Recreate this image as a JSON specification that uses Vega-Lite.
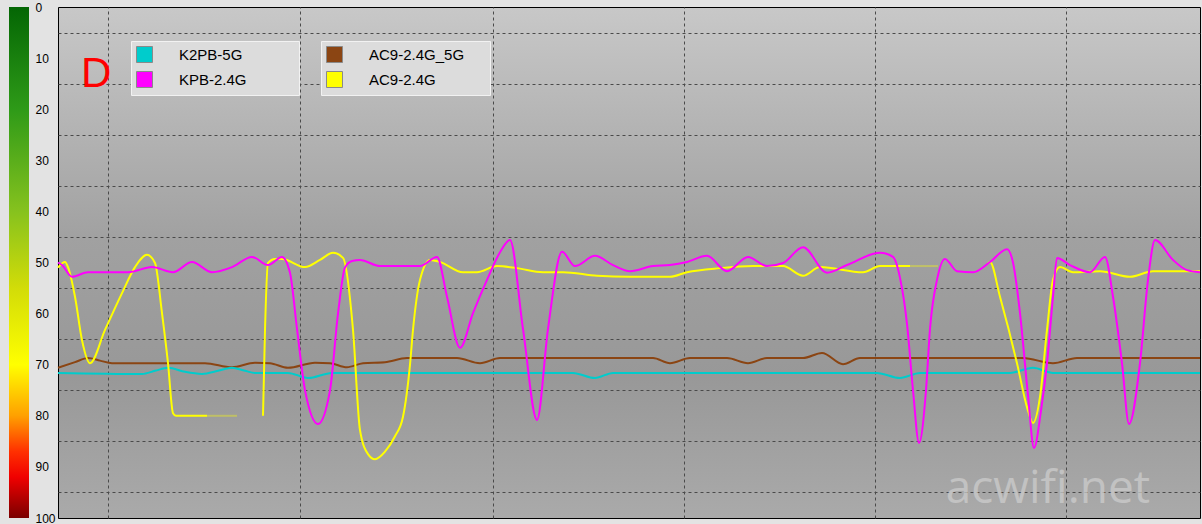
{
  "$schema": "https://vega.github.io/schema/vega-lite/v6.json",
  "background": "#e3e3e3",
  "padding": {"left": 9, "top": 1, "right": 0, "bottom": 0},
  "autosize": {"type": "pad"},
  "bounds": "flush",
  "spacing": 29,
  "datasets": {
    "kpb": [
      {"t":0,"v":50.0},{"t":4,"v":50.5},{"t":14,"v":52.8},{"t":30,"v":51.9},{"t":70,"v":51.9},{"t":94,"v":50.9},{"t":115,"v":51.9},{"t":134,"v":49.9},{"t":154,"v":51.9},{"t":174,"v":50.9},{"t":194,"v":48.9},{"t":210,"v":50.5},{"t":224,"v":48.9},{"t":232,"v":52},{"t":239,"v":63},{"t":247,"v":75},{"t":260,"v":81.6},{"t":272,"v":75},{"t":280,"v":60},{"t":287,"v":51},{"t":294,"v":49.7},{"t":302,"v":49.5},{"t":322,"v":50.7},{"t":362,"v":50.7},{"t":379,"v":48.9},{"t":389,"v":56.7},{"t":402,"v":66.7},{"t":415,"v":59.9},{"t":429,"v":53.4},{"t":442,"v":48},{"t":452,"v":45.6},{"t":465,"v":63},{"t":479,"v":80.8},{"t":490,"v":63},{"t":504,"v":47.9},{"t":517,"v":50.7},{"t":537,"v":48.7},{"t":555,"v":50.5},{"t":572,"v":51.7},{"t":595,"v":50.7},{"t":612,"v":50.5},{"t":629,"v":49.9},{"t":649,"v":48.7},{"t":669,"v":51.7},{"t":690,"v":48.9},{"t":709,"v":50.7},{"t":725,"v":50.1},{"t":745,"v":47},{"t":769,"v":52},{"t":789,"v":50.5},{"t":822,"v":48.1},{"t":835,"v":48.9},{"t":842,"v":53},{"t":849,"v":62},{"t":855,"v":75},{"t":861,"v":85.3},{"t":868,"v":75},{"t":872,"v":63},{"t":879,"v":53.4},{"t":887,"v":49.3},{"t":899,"v":51.7},{"t":915,"v":51.9},{"t":932,"v":49.9},{"t":949,"v":47.4},{"t":955,"v":50},{"t":962,"v":59.9},{"t":970,"v":76},{"t":976,"v":86.3},{"t":983,"v":79},{"t":989,"v":69.7},{"t":995,"v":56.7},{"t":999,"v":49.1},{"t":1012,"v":50.5},{"t":1032,"v":51.9},{"t":1047,"v":48.9},{"t":1055,"v":56.7},{"t":1064,"v":69.7},{"t":1071,"v":81.6},{"t":1082,"v":69.7},{"t":1090,"v":53.4},{"t":1097,"v":45.6},{"t":1115,"v":49.5},{"t":1129,"v":51.5},{"t":1142,"v":51.9}
    ],
    "ac9": [
      {"t":0,"v":51,"seg":"a","link":"live"},{"t":7,"v":49.9,"seg":"a","link":"live"},{"t":10,"v":50.9,"seg":"a","link":"live"},{"t":17,"v":56.7,"seg":"a","link":"live"},{"t":24,"v":65.2,"seg":"a","link":"live"},{"t":32,"v":69.7,"seg":"a","link":"live"},{"t":47,"v":63.2,"seg":"a","link":"live"},{"t":64,"v":56,"seg":"a","link":"live"},{"t":77,"v":50.9,"seg":"a","link":"live"},{"t":89,"v":48.5,"seg":"a","link":"live"},{"t":97,"v":50.1,"seg":"a","link":"live"},{"t":104,"v":59.9,"seg":"a","link":"live"},{"t":110,"v":69.7,"seg":"a","link":"live"},{"t":115,"v":79.5,"seg":"a","link":"live"},{"t":118,"v":80,"seg":"a","link":"live"},{"t":149,"v":80,"seg":"a","link":"live"},
      {"t":149,"v":80,"seg":"a2","link":"lost"},{"t":179,"v":80,"seg":"a2","link":"lost"},
      {"t":205,"v":80,"seg":"b","link":"live"},{"t":207,"v":63.2,"seg":"b","link":"live"},{"t":210,"v":50.1,"seg":"b","link":"live"},{"t":217,"v":49.3,"seg":"b","link":"live"},{"t":224,"v":49.3,"seg":"b","link":"live"},{"t":247,"v":50.9,"seg":"b","link":"live"},{"t":262,"v":49.5,"seg":"b","link":"live"},{"t":275,"v":48.1,"seg":"b","link":"live"},{"t":285,"v":49.1,"seg":"b","link":"live"},{"t":295,"v":63.2,"seg":"b","link":"live"},{"t":302,"v":82.8,"seg":"b","link":"live"},{"t":310,"v":87.5,"seg":"b","link":"live"},{"t":317,"v":88.5,"seg":"b","link":"live"},{"t":327,"v":87,"seg":"b","link":"live"},{"t":337,"v":84,"seg":"b","link":"live"},{"t":345,"v":80.2,"seg":"b","link":"live"},{"t":352,"v":70,"seg":"b","link":"live"},{"t":355,"v":63.2,"seg":"b","link":"live"},{"t":362,"v":53.4,"seg":"b","link":"live"},{"t":372,"v":49.5,"seg":"b","link":"live"},{"t":382,"v":49.9,"seg":"b","link":"live"},{"t":405,"v":51.9,"seg":"b","link":"live"},{"t":419,"v":51.9,"seg":"b","link":"live"},{"t":439,"v":50.7,"seg":"b","link":"live"},{"t":459,"v":51.1,"seg":"b","link":"live"},{"t":485,"v":51.9,"seg":"b","link":"live"},{"t":505,"v":51.9,"seg":"b","link":"live"},{"t":539,"v":52.6,"seg":"b","link":"live"},{"t":572,"v":52.8,"seg":"b","link":"live"},{"t":612,"v":52.8,"seg":"b","link":"live"},{"t":629,"v":51.9,"seg":"b","link":"live"},{"t":662,"v":51.1,"seg":"b","link":"live"},{"t":695,"v":50.7,"seg":"b","link":"live"},{"t":725,"v":50.7,"seg":"b","link":"live"},{"t":745,"v":52.6,"seg":"b","link":"live"},{"t":762,"v":50.9,"seg":"b","link":"live"},{"t":805,"v":51.9,"seg":"b","link":"live"},{"t":822,"v":50.7,"seg":"b","link":"live"},{"t":852,"v":50.7,"seg":"b","link":"live"},
      {"t":852,"v":50.7,"seg":"b2","link":"lost"},{"t":880,"v":50.7,"seg":"b2","link":"lost"},
      {"t":930,"v":50.2,"seg":"c","link":"live"},{"t":932,"v":49.9,"seg":"c","link":"live"},{"t":942,"v":56.7,"seg":"c","link":"live"},{"t":959,"v":69.7,"seg":"c","link":"live"},{"t":969,"v":78.3,"seg":"c","link":"live"},{"t":975,"v":81.4,"seg":"c","link":"live"},{"t":982,"v":76.3,"seg":"c","link":"live"},{"t":989,"v":63.2,"seg":"c","link":"live"},{"t":995,"v":53.4,"seg":"c","link":"live"},{"t":1002,"v":50.9,"seg":"c","link":"live"},{"t":1015,"v":51.9,"seg":"c","link":"live"},{"t":1042,"v":51.7,"seg":"c","link":"live"},{"t":1072,"v":52.8,"seg":"c","link":"live"},{"t":1095,"v":51.7,"seg":"c","link":"live"},{"t":1142,"v":51.7,"seg":"c","link":"live"}
    ],
    "ac9_5g": [
      {"t":0,"v":70.6},{"t":17,"v":69.5},{"t":30,"v":68.7},{"t":42,"v":69.2},{"t":54,"v":69.7},{"t":147,"v":69.7},{"t":174,"v":70.5},{"t":197,"v":69.6},{"t":212,"v":69.7},{"t":230,"v":70.6},{"t":257,"v":69.6},{"t":272,"v":69.7},{"t":289,"v":70.5},{"t":305,"v":69.7},{"t":327,"v":69.5},{"t":349,"v":68.7},{"t":399,"v":68.7},{"t":422,"v":69.7},{"t":442,"v":68.7},{"t":595,"v":68.7},{"t":612,"v":69.7},{"t":632,"v":68.7},{"t":669,"v":68.7},{"t":690,"v":69.7},{"t":709,"v":68.7},{"t":745,"v":68.7},{"t":764,"v":67.7},{"t":785,"v":69.9},{"t":802,"v":68.7},{"t":965,"v":68.7},{"t":995,"v":69.7},{"t":1019,"v":68.7},{"t":1142,"v":68.7}
    ],
    "k2pb": [
      {"t":0,"v":71.6},{"t":84,"v":71.8},{"t":97,"v":71.2},{"t":110,"v":70.6},{"t":127,"v":71.4},{"t":144,"v":71.8},{"t":160,"v":71.2},{"t":174,"v":70.6},{"t":187,"v":71.2},{"t":197,"v":71.6},{"t":230,"v":71.6},{"t":250,"v":72.6},{"t":274,"v":71.6},{"t":515,"v":71.6},{"t":537,"v":72.6},{"t":555,"v":71.6},{"t":819,"v":71.6},{"t":842,"v":72.6},{"t":862,"v":71.6},{"t":952,"v":71.6},{"t":975,"v":70.6},{"t":995,"v":71.6},{"t":1142,"v":71.6}
    ],
    "colorbar": [{"lo": 0, "hi": 100}],
    "panel": [{"note": "D"}],
    "stamp": [{"note": "acwifi.net"}]
  },
  "hconcat": [
    {
      "width": 20,
      "height": 511,
      "view": {"stroke": null},
      "data": {"name": "colorbar"},
      "mark": {
        "type": "rect",
        "fill": {
          "gradient": "linear", "x1": 0, "y1": 0, "x2": 0, "y2": 1,
          "stops": [
            {"offset": 0, "color": "#046604"},
            {"offset": 0.2, "color": "#2e9a18"},
            {"offset": 0.4, "color": "#86c21e"},
            {"offset": 0.55, "color": "#d2dc08"},
            {"offset": 0.7, "color": "#ffff00"},
            {"offset": 0.8, "color": "#ffa000"},
            {"offset": 0.87, "color": "#ff3000"},
            {"offset": 0.92, "color": "#f00000"},
            {"offset": 1, "color": "#7a0000"}
          ]
        }
      },
      "encoding": {
        "y": {
          "field": "lo", "type": "quantitative",
          "scale": {"domain": [0, 100], "reverse": true, "nice": false, "zero": false},
          "axis": {
            "orient": "right", "values": [0,10,20,30,40,50,60,70,80,90,100],
            "ticks": false, "domain": false, "grid": false, "title": null,
            "labelPadding": 6, "labelFont": "Liberation Sans", "labelFontSize": 12,
            "labelColor": "#000000", "labelOverlap": false, "labelBound": false, "labelFlush": false
          }
        },
        "y2": {"field": "hi"}
      }
    },
    {
      "width": 1142,
      "height": 511,
      "view": {
        "stroke": "#000000",
        "strokeWidth": 1,
        "fill": {
          "gradient": "linear", "x1": 0, "y1": 0, "x2": 0, "y2": 1,
          "stops": [
            {"offset": 0, "color": "#c8c8c8"},
            {"offset": 0.45, "color": "#a1a1a1"},
            {"offset": 0.72, "color": "#989898"},
            {"offset": 1, "color": "#aaaaaa"}
          ]
        }
      },
      "layer": [
        {
          "data": {"name": "ac9_5g"},
          "mark": {"type": "line", "interpolate": "monotone", "strokeWidth": 2},
          "encoding": {
            "x": {
              "field": "t", "type": "quantitative",
              "scale": {"domain": [0, 1142], "nice": false, "zero": false},
              "axis": {"values": [50, 242, 435, 626, 817, 1008], "labels": false, "ticks": false, "domain": false, "grid": true, "gridColor": "#4a4a4a", "gridDash": [3, 3], "gridWidth": 1, "gridOpacity": 1, "title": null}
            },
            "y": {
              "field": "v", "type": "quantitative",
              "scale": {"domain": [0, 100], "reverse": true, "nice": false, "zero": false},
              "axis": {"values": [5,10,15,20,25,30,35,40,45,50,55,60,65,70,75,80,85,90,95], "labels": false, "ticks": false, "domain": false, "grid": true, "gridColor": "#4a4a4a", "gridDash": [3, 3], "gridWidth": 1, "gridOpacity": 1, "title": null}
            },
            "stroke": {"datum": "AC9-2.4G_5G", "type": "nominal", "scale": {"domain": ["K2PB-5G", "KPB-2.4G", "AC9-2.4G_5G", "AC9-2.4G"], "range": ["#00cccc", "#ff00ff", "#8b4513", "#ffff00"]}, "legend": null}
          }
        },
        {
          "data": {"name": "k2pb"},
          "mark": {"type": "line", "interpolate": "monotone", "strokeWidth": 2},
          "encoding": {
            "x": {"field": "t", "type": "quantitative"},
            "y": {"field": "v", "type": "quantitative"},
            "stroke": {"datum": "K2PB-5G", "type": "nominal", "legend": null}
          }
        },
        {
          "data": {"name": "ac9"},
          "mark": {"type": "line", "interpolate": "monotone", "strokeWidth": 2},
          "encoding": {
            "x": {"field": "t", "type": "quantitative"},
            "y": {"field": "v", "type": "quantitative"},
            "stroke": {"datum": "AC9-2.4G", "type": "nominal", "legend": null},
            "detail": {"field": "seg", "type": "nominal"},
            "opacity": {"field": "link", "type": "nominal", "scale": {"domain": ["live", "lost"], "range": [1, 0.35]}, "legend": null}
          }
        },
        {
          "data": {"name": "kpb"},
          "mark": {"type": "line", "interpolate": "monotone", "strokeWidth": 2},
          "encoding": {
            "x": {"field": "t", "type": "quantitative"},
            "y": {"field": "v", "type": "quantitative"},
            "stroke": {"datum": "KPB-2.4G", "type": "nominal", "legend": null}
          }
        },
        {
          "layer": [
            {
              "data": {"values": []},
              "mark": {"type": "square", "filled": true},
              "encoding": {
                "fill": {
                  "field": "s", "type": "nominal",
                  "scale": {"domain": ["K2PB-5G", "KPB-2.4G"], "range": ["#00cccc", "#ff00ff"]},
                  "legend": {"orient": "none", "legendX": 73, "legendY": 34, "title": " ", "titleOrient": "right", "titlePadding": 47, "titleFontSize": 10, "symbolType": "square", "symbolSize": 256, "symbolStrokeColor": "#8a8a8a", "symbolStrokeWidth": 1, "symbolOpacity": 1, "labelOffset": 26, "rowPadding": 4, "padding": 5, "fillColor": "#dcdcdc", "strokeColor": "#f2f2f2", "labelFont": "Liberation Sans", "labelFontSize": 15, "labelColor": "#000000"}
                }
              }
            },
            {
              "data": {"values": []},
              "mark": {"type": "square", "filled": true},
              "encoding": {
                "fill": {
                  "field": "s", "type": "nominal",
                  "scale": {"domain": ["AC9-2.4G_5G", "AC9-2.4G"], "range": ["#8b4513", "#ffff00"]},
                  "legend": {"orient": "none", "legendX": 263, "legendY": 34, "title": " ", "titleOrient": "right", "titlePadding": 21, "titleFontSize": 10, "symbolType": "square", "symbolSize": 256, "symbolStrokeColor": "#8a8a8a", "symbolStrokeWidth": 1, "symbolOpacity": 1, "labelOffset": 26, "rowPadding": 4, "padding": 5, "fillColor": "#dcdcdc", "strokeColor": "#f2f2f2", "labelFont": "Liberation Sans", "labelFontSize": 15, "labelColor": "#000000"}
                }
              }
            }
          ],
          "resolve": {"scale": {"fill": "independent"}, "legend": {"fill": "independent"}}
        },
        {
          "data": {"name": "panel"},
          "mark": {"type": "text", "font": "Liberation Sans", "fontSize": 42, "fill": "#ff0000", "align": "left", "baseline": "alphabetic"},
          "encoding": {
            "text": {"field": "note", "type": "nominal"},
            "x": {"datum": 23, "type": "quantitative"},
            "y": {"datum": 15.7, "type": "quantitative"}
          }
        },
        {
          "data": {"name": "stamp"},
          "mark": {"type": "text", "font": "Open Sans", "fontSize": 46, "fill": "#cccccc", "opacity": 0.75, "align": "center", "baseline": "alphabetic"},
          "encoding": {
            "text": {"field": "note", "type": "nominal"},
            "x": {"datum": 990, "type": "quantitative"},
            "y": {"datum": 97.1, "type": "quantitative"}
          }
        }
      ],
      "resolve": {"scale": {"fill": "independent"}, "legend": {"fill": "independent"}}
    }
  ]
}
